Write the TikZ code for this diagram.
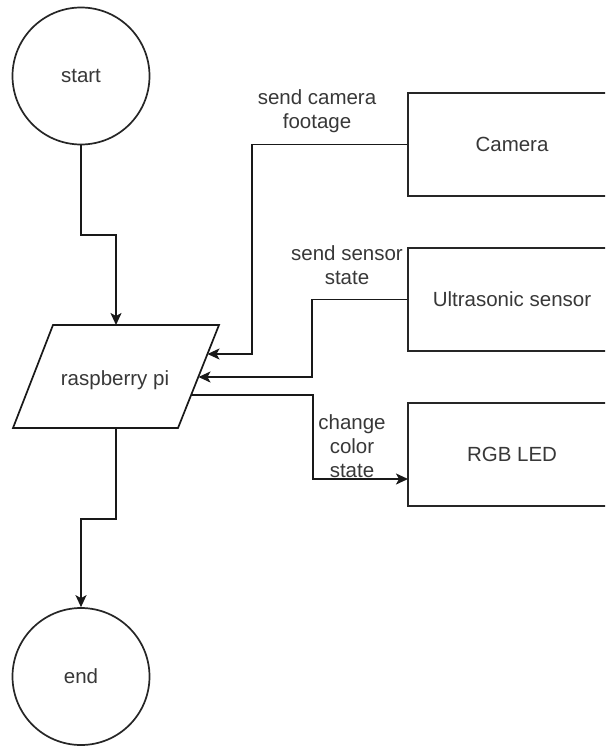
\documentclass[tikz,border=0pt]{standalone}
\usepackage{fontspec}
\setmainfont{Liberation Sans}
\usetikzlibrary{arrows.meta}
\begin{document}
\begin{tikzpicture}[x=1pt,y=-1pt,
  lbl/.style={font=\fontsize{20.5}{24}\selectfont, text=black!78, align=center, inner sep=0pt},
  term/.style={circle, draw=black!85, line width=1.7pt, minimum size=137pt, inner sep=0pt, lbl},
  blk/.style={rectangle, draw=black!85, line width=1.7pt, minimum width=208pt, minimum height=103pt, inner sep=0pt, lbl},
  conn/.style={draw=black!90, line width=1.7pt},
  arr/.style={conn, -{Stealth[length=12pt,width=11pt,inset=3pt]}}]
\clip (0,0) rectangle (605,746);
\fill[white] (0,0) rectangle (605,746);

% terminals
\node[term] (start) at (81,76) {start};
\node[term] (end) at (81,676.5) {end};

% raspberry pi parallelogram
\draw[conn] (53,325) -- (219,325) -- (178,428) -- (13,428) -- cycle;
\node[lbl] (pi) at (115,380) {raspberry pi};
\coordinate (pitop) at (116,325);
\coordinate (pibot) at (116,428);
\coordinate (pi1) at (207.5,354);
\coordinate (pi2) at (198.5,377);
\coordinate (pi3) at (191,395);

% blocks
\node[blk] (cam) at (512,144.5) {Camera};
\node[blk] (us) at (512,299.5) {Ultrasonic sensor};
\node[blk] (led) at (512,454.5) {RGB LED};
\coordinate (ledin) at (408,479);

% connectors
\draw[arr] (start.south) -- (81,235) -- (116,235) -- (pitop);
\draw[arr] (cam.west) -- ++(-155,0) |- (pi1);
\draw[arr] (us.west) -- ++(-95,0) |- (pi2);
\draw[arr] (pi3) -- (313,395) -- (313,479) -- (ledin);
\draw[arr] (pibot) -- (116,519) -- (81,519) -- (end.north);

% labels
\node[lbl] (l1) at (317,111) {send camera\\footage};
\node[lbl] (l2) at (347,265.5) {send sensor\\state};
\node[lbl] (l3) at (352,446) {change\\color\\state};
\end{tikzpicture}
\end{document}
